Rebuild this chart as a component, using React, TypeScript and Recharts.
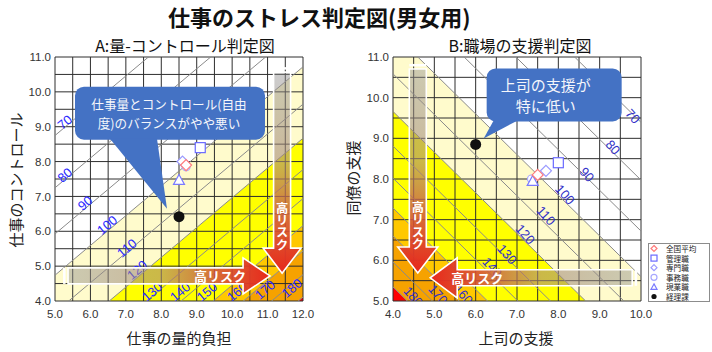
import React from 'react';
import {
  ComposedChart,
  Area,
  Line,
  Scatter,
  XAxis,
  YAxis,
  ReferenceLine,
  ReferenceDot,
} from 'recharts';

const JP = '"Noto Sans CJK JP", "Noto Sans", sans-serif';
const LAT = '"Liberation Sans", Arial, sans-serif';

// risk levels shared by both charts
const contourLevels = [70, 80, 90, 100, 110, 120, 130, 140, 150, 160, 170, 180];
const bandLevels = [100, 120, 150, 160, 180];
const bandColors = ['#ffffff', '#fffbcc', '#ffff00', '#ffc800', '#f6a200', '#ff0000'];

// A: 量-コントロール判定図  risk = 100*exp(kx*(x-mx) + ky*(y-my))
const aModel = { mx: 8.7, my: 7.9, kx: 0.076, ky: -0.089 };
const aXTicks = [5, 6, 7, 8, 9, 10, 11, 12];
const aYTicks = [4, 5, 6, 7, 8, 9, 10, 11];
const aLabelLevels = [70, 80, 90, 100, 110, 120, 130, 140, 150, 160, 170, 180];
const aLabelX = [5.28, 5.28, 5.85, 6.47, 7.03, 7.32, 7.74, 8.53, 9.29, 10.14, 10.93, 11.69];
const aLabelY = [9.13, 7.61, 6.81, 6.18, 5.52, 4.89, 4.26, 4.26, 4.26, 4.26, 4.32, 4.37];

// B: 職場の支援判定図 (150 sits under the arrow and is not visible)
const bModel = { mx: 7.5, my: 8.1, kx: -0.094, ky: -0.094 };
const bXTicks = [4, 5, 6, 7, 8, 9, 10];
const bYTicks = [5, 6, 7, 8, 9, 10, 11];
const bLabelLevels = [70, 80, 90, 100, 110, 120, 130, 140, 160, 170, 180];
const bLabelX = [9.8, 9.32, 8.69, 8.16, 7.7, 7.2, 6.76, 6.4, 5.7, 5.09, 4.49];
const bLabelY = [9.54, 8.78, 8.11, 7.62, 7.1, 6.64, 6.15, 5.83, 5.16, 5.16, 5.11];

// groups (legend order)
const groups = ['全国平均', '管理職', '専門職', '事務職', '現業職', '経理課'];
const aQuantity = [8.7, 9.1, 8.6, 8.7, 8.5, 8.5];
const aControl = [7.9, 8.4, 8.0, 7.85, 7.47, 6.42];
const bBoss = [7.5, 8.0, 7.7, 7.35, 7.38, 6.0];
const bPeer = [8.1, 8.4, 8.2, 8.0, 7.95, 8.85];

const groupStyle = [
  { kind: 'diamond', color: '#ff7b7b', s: 5.5 },
  { kind: 'square', color: '#6a6aff', s: 5 },
  { kind: 'diamond', color: '#9a9aff', s: 5.5 },
  { kind: 'circle', color: '#a8a8ff', s: 4 },
  { kind: 'triangle', color: '#7a7aff', s: 5.5 },
  { kind: 'dot', color: '#111111', s: 5.5 },
];
const drawOrder = [2, 3, 1, 4, 0, 5];

function yAt(m, level, x) {
  return m.my + (Math.log(level / 100) - m.kx * (x - m.mx)) / m.ky;
}

function buildRows(m, xDomain) {
  return xDomain.map((x) => {
    const row = { x };
    const n = bandLevels.length;
    row.band0 = [yAt(m, bandLevels[0], x), 99];
    for (let i = 1; i < n; i++) {
      row[`band${i}`] = [yAt(m, bandLevels[i], x), yAt(m, bandLevels[i - 1], x)];
    }
    row[`band${n}`] = [-99, yAt(m, bandLevels[n - 1], x)];
    contourLevels.forEach((l) => {
      row[`c${l}`] = yAt(m, l, x);
    });
    return row;
  });
}

function halfSteps(a, b) {
  const out = [];
  for (let v = a; v <= b + 1e-9; v += 0.5) out.push(Math.round(v * 10) / 10);
  return out;
}

function markerShape(st) {
  return (p) => {
    const { cx, cy } = p;
    const s = st.s;
    if (st.kind === 'diamond')
      return <polygon points={`${cx},${cy - s} ${cx + s},${cy} ${cx},${cy + s} ${cx - s},${cy}`} fill="#fff" stroke={st.color} strokeWidth={1.2} />;
    if (st.kind === 'square')
      return <rect x={cx - s} y={cy - s} width={2 * s} height={2 * s} fill="#fff" stroke={st.color} strokeWidth={1.2} />;
    if (st.kind === 'circle')
      return <circle cx={cx} cy={cy} r={s} fill="#fff" stroke={st.color} strokeWidth={1.2} />;
    if (st.kind === 'triangle')
      return <polygon points={`${cx},${cy - s} ${cx + s},${cy + s * 0.8} ${cx - s},${cy + s * 0.8}`} fill="#fff" stroke={st.color} strokeWidth={1.2} />;
    return <circle cx={cx} cy={cy} r={s} fill={st.color} />;
  };
}

function labelShape(angle, color) {
  return (p) => (
    <text
      x={p.cx}
      y={p.cy}
      transform={`rotate(${angle},${p.cx},${p.cy})`}
      textAnchor="middle"
      dominantBaseline="central"
      fontSize={13}
      fontFamily={LAT}
      fill={color}
    >
      {p.payload.lvl}
    </text>
  );
}

function arrowShape(a) {
  return (p) => {
    const { cx, cy } = p;
    const rot = a.dir === 'right' ? 0 : a.dir === 'down' ? 90 : 180;
    const id = `grad-${a.id}`;
    const { len: L, head: H, headHalf: hw, shaftHalf: sw } = a;
    const d = `M${-L},${-sw} L${-H},${-sw} L${-H},${-hw} L0,0 L${-H},${hw} L${-H},${sw} L${-L},${sw} Z`;
    return (
      <g transform={`translate(${cx},${cy})`}>
        <g transform={`rotate(${rot})`}>
          <defs>
            <linearGradient id={id} gradientUnits="userSpaceOnUse" x1={-L} y1={0} x2={0} y2={0}>
              <stop offset="0" stopColor="#8f8f8f" stopOpacity={0.45} />
              <stop offset="0.45" stopColor="#a88a78" stopOpacity={0.6} />
              <stop offset="0.75" stopColor="#d4513a" stopOpacity={0.88} />
              <stop offset="1" stopColor="#e8281b" stopOpacity={1} />
            </linearGradient>
          </defs>
          <rect x={-L - 5} y={-sw} width={2.5} height={2 * sw} fill="#fff" />
          <path d={d} fill={`url(#${id})`} stroke="#fff" strokeWidth={1.6} />
        </g>
        {a.dir === 'down' ? (
          <text
            x={0}
            y={a.textDy}
            writingMode="vertical-rl"
            textAnchor="middle"
            fontSize={12.3}
            fontWeight="bold"
            fontFamily={JP}
            fill="#fff"
          >
            高リスク
          </text>
        ) : (
          <text x={a.textDx} y={0} textAnchor="middle" dominantBaseline="central" fontSize={13} fontWeight="bold" fontFamily={JP} fill="#fff">
            高リスク
          </text>
        )}
      </g>
    );
  };
}

function calloutShape(c) {
  return (p) => {
    const { cx, cy } = p;
    return (
      <g transform={`translate(${cx},${cy})`}>
        <rect x={c.box[0]} y={c.box[1]} width={c.box[2]} height={c.box[3]} rx={9} fill="#4472c4" />
        <polygon points={c.pointer.map((q) => q.join(',')).join(' ')} fill="#4472c4" />
        {c.lines.map((t, i) => (
          <text key={i} x={c.textX} y={c.textY + i * c.lineH} textAnchor="middle" dominantBaseline="central" fontSize={c.fontSize} fontFamily={JP} fill="#f4f6fb">
            {t}
          </text>
        ))}
      </g>
    );
  };
}

const chartA = {
  width: 360,
  margin: { top: 57, right: 57, bottom: 21, left: 10 },
  model: aModel,
  xDomain: [5, 12],
  yDomain: [4, 11],
  xTicks: aXTicks,
  yTicks: aYTicks,
  labels: aLabelLevels.map((lvl, i) => ({ lvl, x: aLabelX[i], y: aLabelY[i] })),
  labelAngle: -40,
  labelColor: '#2b2bff',
  points: groups.map((g, i) => ({ x: aQuantity[i], y: aControl[i] })),
  arrows: [
    { id: 'ah', x: 11.07, y: 4.72, dir: 'right', len: 202, head: 27, headHalf: 18, shaftHalf: 8, textDx: -50 },
    { id: 'av', x: 11.41, y: 4.8, dir: 'down', len: 201, head: 25, headHalf: 19, shaftHalf: 8.5, textDy: -46.5 },
  ],
  callout: {
    x: 8.5,
    y: 6.42,
    box: [-104, -130, 190, 53],
    pointer: [[-69, -78], [-22, -78], [-12, -8]],
    lines: ['仕事量とコントロール(自由', '度)のバランスがやや悪い'],
    textX: -10,
    textY: -113,
    lineH: 18.5,
    fontSize: 12.6,
  },
};

const chartB = {
  width: 372,
  margin: { top: 57, right: 71, bottom: 21, left: 8 },
  model: bModel,
  xDomain: [4, 10],
  yDomain: [5, 11],
  xTicks: bXTicks,
  yTicks: bYTicks,
  labels: bLabelLevels.map((lvl, i) => ({ lvl, x: bLabelX[i], y: bLabelY[i] })),
  labelAngle: 48,
  labelColor: '#3030c8',
  points: groups.map((g, i) => ({ x: bBoss[i], y: bPeer[i] })),
  arrows: [
    { id: 'bv', x: 4.6, y: 5.69, dir: 'down', len: 204, head: 26, headHalf: 20, shaftHalf: 8.5, textDy: -47 },
    { id: 'bh', x: 4.9, y: 5.57, dir: 'left', len: 202, head: 27, headHalf: 20, shaftHalf: 8, textDx: 47 },
  ],
  callout: {
    x: 6.0,
    y: 8.85,
    box: [11, -76, 135, 53],
    pointer: [[18, -24], [42, -24], [8, -6]],
    lines: ['上司の支援が', '特に低い'],
    textX: 70,
    textY: -60,
    lineH: 21,
    fontSize: 15,
  },
};

function StressChart({ cfg }) {
  const rows = buildRows(cfg.model, cfg.xDomain);
  const gridX = halfSteps(cfg.xDomain[0], cfg.xDomain[1]);
  const gridY = halfSteps(cfg.yDomain[0], cfg.yDomain[1]);
  const tick = { fontSize: 11.5, fill: '#333', fontFamily: LAT };
  return (
    <ComposedChart width={cfg.width} height={352} data={rows} margin={cfg.margin}>
      <XAxis
        type="number"
        dataKey="x"
        domain={cfg.xDomain}
        ticks={cfg.xTicks}
        interval={0}
        allowDataOverflow
        tickLine={false}
        axisLine={false}
        tickSize={6}
        tickMargin={3}
        height={30}
        tick={tick}
        tickFormatter={(v) => v.toFixed(1)}
      />
      <YAxis
        type="number"
        domain={cfg.yDomain}
        ticks={cfg.yTicks}
        interval={0}
        allowDataOverflow
        tickLine={false}
        axisLine={false}
        tickSize={4}
        tickMargin={0}
        width={45}
        tick={tick}
        tickFormatter={(v) => v.toFixed(1)}
      />
      {bandColors.map((c, i) => (
        <Area
          key={`band${i}`}
          type="linear"
          dataKey={`band${i}`}
          fill={c}
          fillOpacity={1}
          stroke="none"
          dot={false}
          activeDot={false}
          isAnimationActive={false}
        />
      ))}
      {gridX.map((v) => (
        <ReferenceLine key={`gx${v}`} x={v} stroke="#2e2e2e" strokeWidth={1} />
      ))}
      {gridY.map((v) => (
        <ReferenceLine key={`gy${v}`} y={v} stroke="#2e2e2e" strokeWidth={1} />
      ))}
      {contourLevels.map((l) => (
        <Line
          key={`c${l}`}
          type="linear"
          dataKey={`c${l}`}
          stroke="#8a8a8a"
          strokeWidth={1}
          dot={false}
          activeDot={false}
          isAnimationActive={false}
        />
      ))}
      <Scatter
        data={cfg.labels}
        dataKey="y"
        shape={labelShape(cfg.labelAngle, cfg.labelColor)}
        isAnimationActive={false}
      />
      {drawOrder.map((gi) => (
        <Scatter
          key={groups[gi]}
          name={groups[gi]}
          data={[cfg.points[gi]]}
          dataKey="y"
          shape={markerShape(groupStyle[gi])}
          isAnimationActive={false}
        />
      ))}
      {cfg.arrows.map((a) => (
        <ReferenceDot key={a.id} x={a.x} y={a.y} r={1} ifOverflow="visible" shape={arrowShape(a)} />
      ))}
      <ReferenceDot
        x={cfg.callout.x}
        y={cfg.callout.y}
        r={1}
        ifOverflow="visible"
        shape={calloutShape(cfg.callout)}
      />
    </ComposedChart>
  );
}

function LegendBox() {
  return (
    <g>
      <rect x={648.5} y={243.5} width={61} height={58} fill="#fff" stroke="#8c8c8c" strokeWidth={1} />
      {groups.map((g, i) => {
        const cy = 248.5 + i * 9.6;
        const st = { ...groupStyle[i], s: i === 5 ? 2.6 : 3 };
        return (
          <g key={g}>
            {markerShape(st)({ cx: 654, cy })}
            <text x={666} y={cy} dominantBaseline="central" fontSize={7.6} fontFamily={JP} fill="#222">
              {g}
            </text>
          </g>
        );
      })}
    </g>
  );
}

export default function App() {
  return (
    <div style={{ position: 'absolute', left: 0, top: 0, width: 712, height: 352, background: '#fff' }}>
      <div style={{ position: 'absolute', left: 0, top: 0 }}>
        <StressChart cfg={chartA} />
      </div>
      <div style={{ position: 'absolute', left: 340, top: 0 }}>
        <StressChart cfg={chartB} />
      </div>
      <svg width={712} height={352} style={{ position: 'absolute', left: 0, top: 0, pointerEvents: 'none' }}>
        <text x={168} y={16} dominantBaseline="central" fontSize={22} fontWeight="bold" fontFamily={JP} fill="#111">
          仕事のストレス判定図(男女用)
        </text>
        <text x={185} y={45} textAnchor="middle" dominantBaseline="central" fontSize={16} fontFamily={JP} fill="#111">
          A:量-コントロール判定図
        </text>
        <text x={520} y={45} textAnchor="middle" dominantBaseline="central" fontSize={16} fontFamily={JP} fill="#111">
          B:職場の支援判定図
        </text>
        <text x={179} y={337} textAnchor="middle" dominantBaseline="central" fontSize={15} fontFamily={JP} fill="#222">
          仕事の量的負担
        </text>
        <text x={516} y={337} textAnchor="middle" dominantBaseline="central" fontSize={15} fontFamily={JP} fill="#222">
          上司の支援
        </text>
        <text x={15} y={180} transform="rotate(-90,15,180)" textAnchor="middle" dominantBaseline="central" fontSize={15} fontFamily={JP} fill="#222">
          仕事のコントロール
        </text>
        <text x={352} y={178} transform="rotate(-90,352,178)" textAnchor="middle" dominantBaseline="central" fontSize={15} fontFamily={JP} fill="#222">
          同僚の支援
        </text>
        <LegendBox />
      </svg>
    </div>
  );
}
